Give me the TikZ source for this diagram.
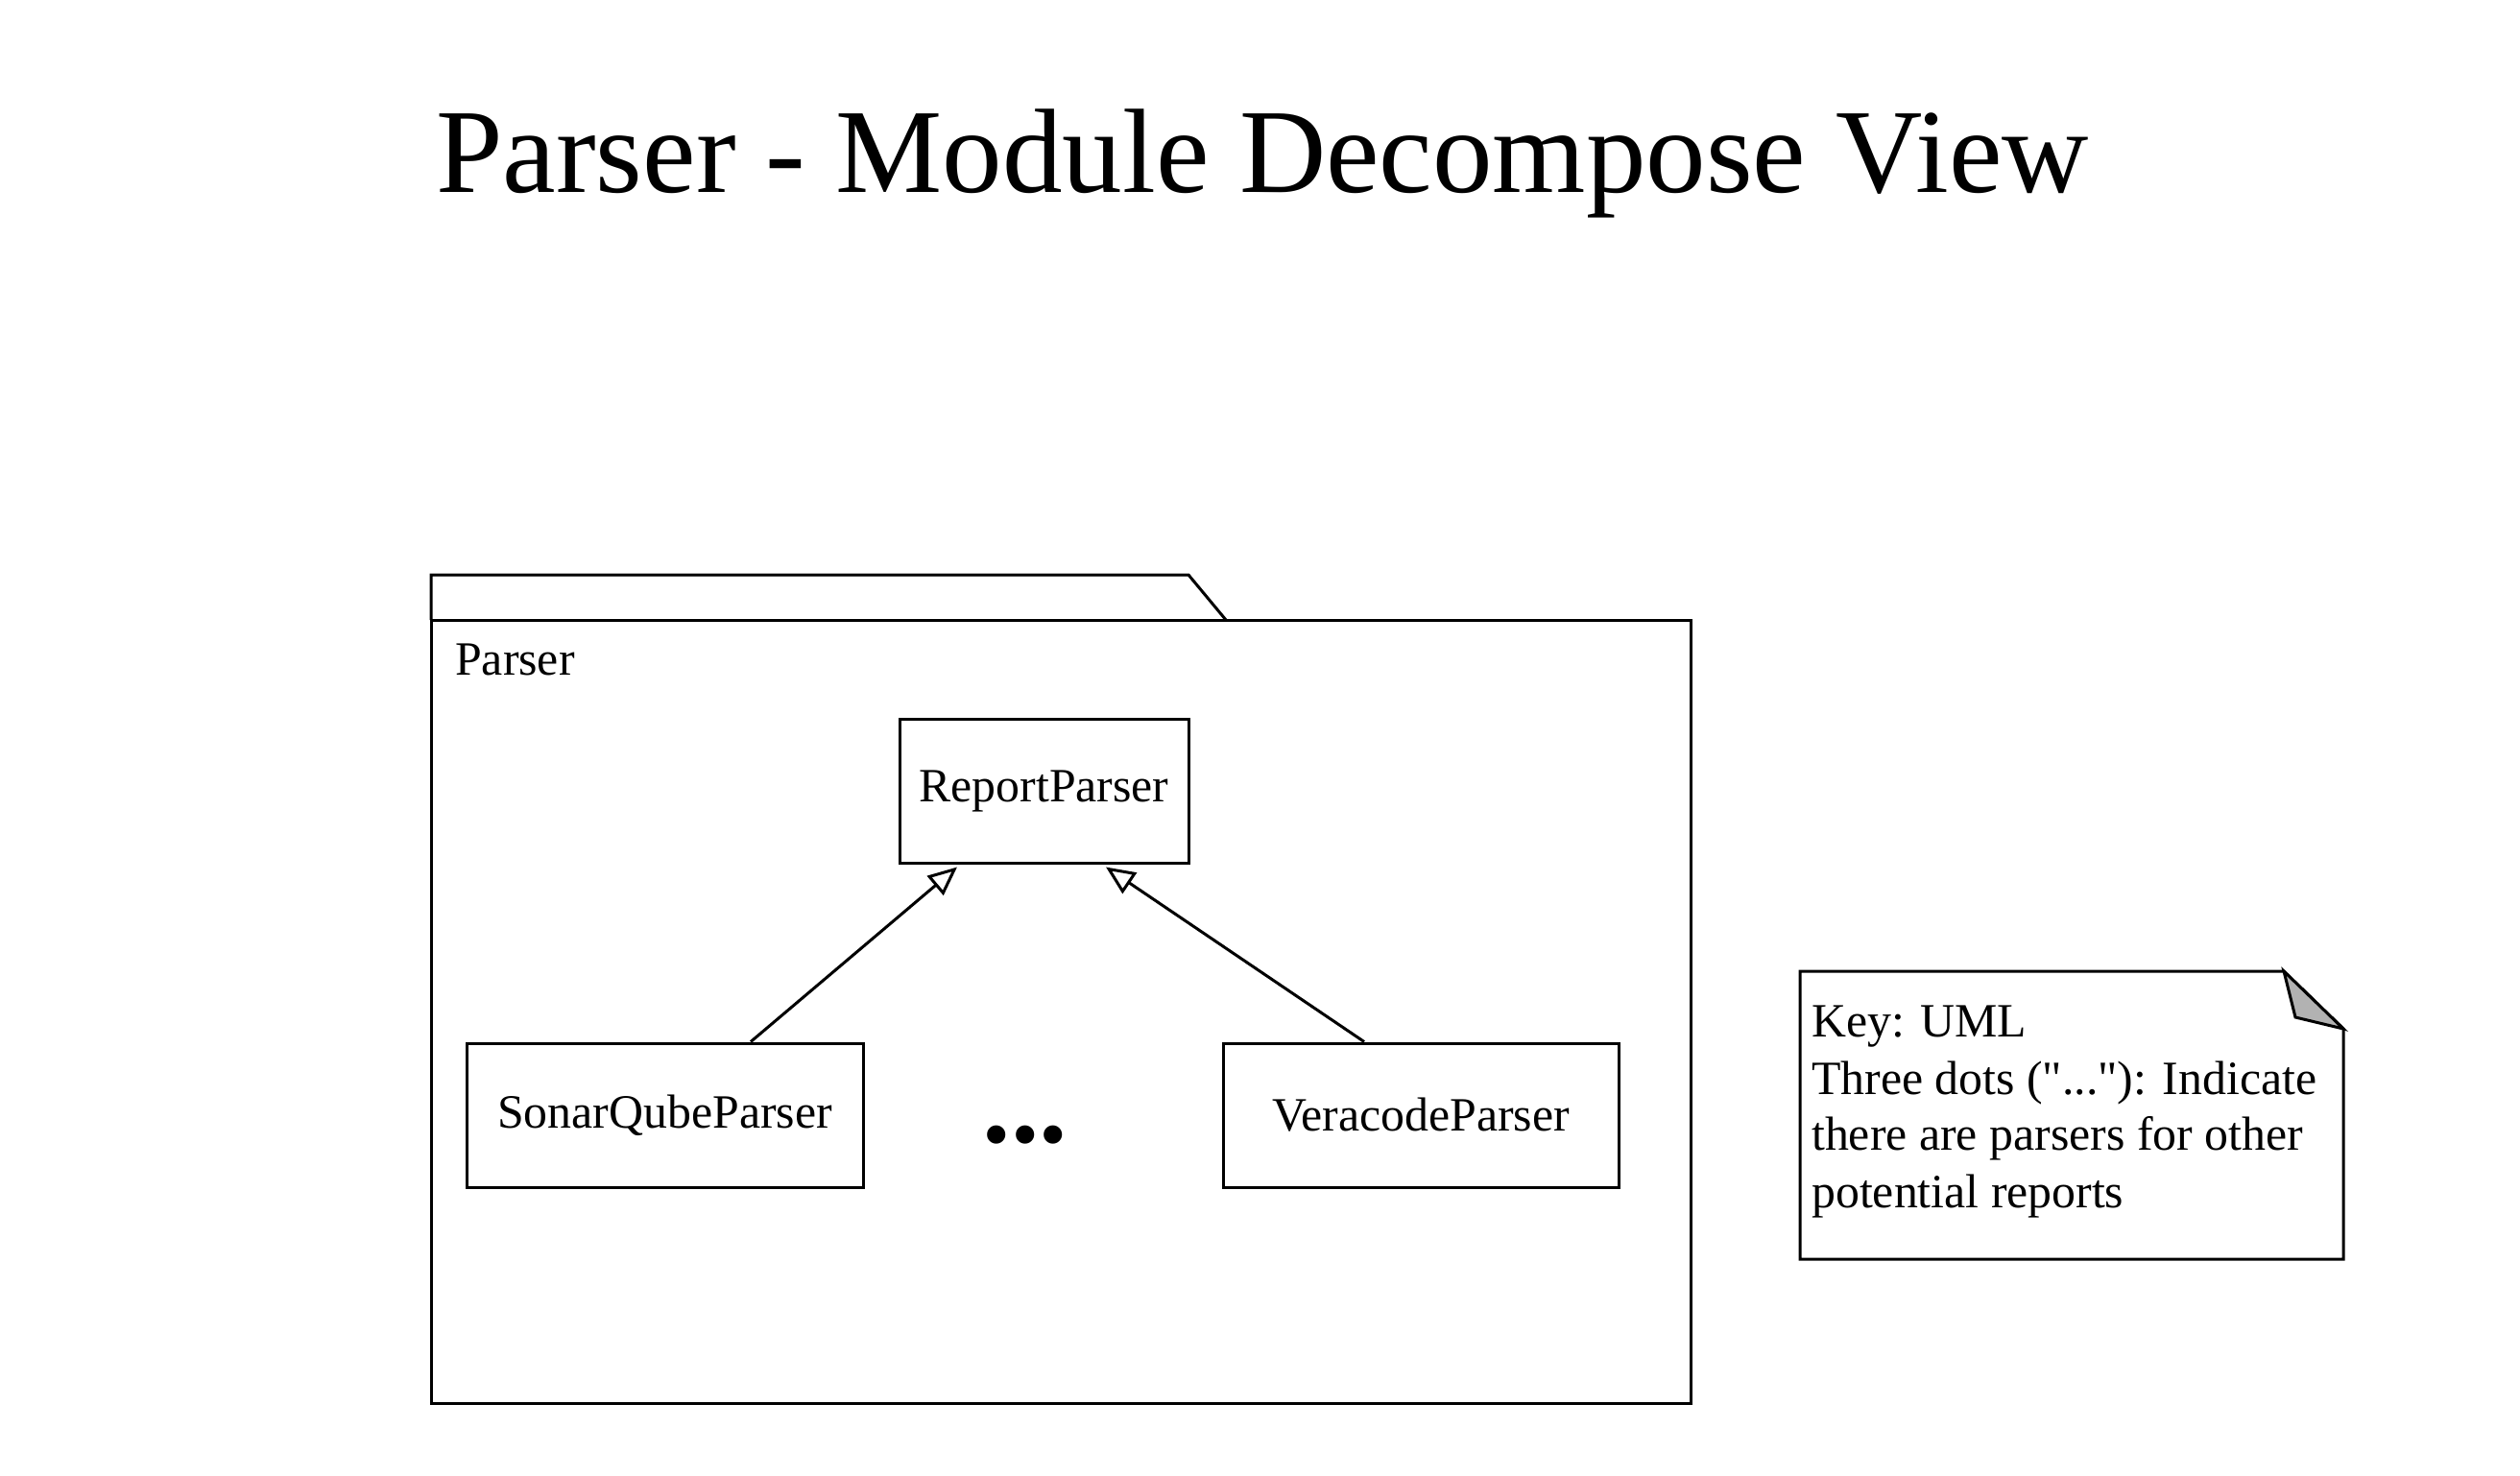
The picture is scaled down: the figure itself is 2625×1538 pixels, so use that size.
\documentclass[tikz,border=0pt]{standalone}
\usepackage{fontspec}
\setmainfont{Liberation Serif}
\newfontfamily\plainserif{Liberation Serif}
\usetikzlibrary{arrows.meta}
\tikzset{
  lw/.style={line width=3bp},
  classbox/.style={draw, lw, minimum height=150bp, inner sep=0pt, font=\fontsize{50}{59}\selectfont},
  notetext/.style={anchor=base west, inner sep=0pt, font=\plainserif\fontsize{50}{59}\selectfont},
  genarrow/.style={lw, -{Triangle[open, length=30bp, width=26bp, line width=3bp]}},
}
\begin{document}
\begin{tikzpicture}[x=1bp, y=-1bp]
\useasboundingbox (0,0) rectangle (2625,1538);
% title
\node[anchor=base, inner sep=0pt, font=\fontsize{125.5}{140}\selectfont] (title) at (1315,200) {Parser - Module Decompose View};
% package
\draw[lw, line join=miter] (449,646) -- (449,599) -- (1238,599) -- (1277,646);
\draw[lw] (449,646) rectangle (1761,1462);
\node[anchor=base west, inner sep=0pt, font=\fontsize{50}{59}\selectfont] (pkglabel) at (474,703) {Parser};
% classes
\node[classbox, minimum width=301bp] (report) at (1087.5,824) {ReportParser};
\node[classbox, minimum width=413bp] (sonar) at (692.5,1162) {SonarQubeParser};
\node[classbox, minimum width=412bp] (vera) at (1480,1162) {VeracodeParser};
\node[anchor=base, inner sep=0pt, font=\fontsize{118}{140}\selectfont\bfseries] (dots) at (1068,1190) {...};
% generalizations
\draw[genarrow] ([xshift=89.5bp]sonar.north) -- ([xshift=-90.5bp,yshift=-3bp]report.south);
\draw[genarrow] ([xshift=-59bp]vera.north) -- ([xshift=64.5bp,yshift=-3bp]report.south);
% note
\draw[lw, line join=miter] (1875,1012) -- (2379,1012) -- (2441,1072) -- (2441,1312) -- (1875,1312) -- cycle;
\filldraw[lw, fill=black!30, line join=miter] (2379,1012) -- (2391,1060) -- (2441,1072) -- cycle;
\node[notetext] (n1) at (1887,1080) {Key: UML};
\node[notetext] (n2) at (1887,1140) {Three dots ("..."): Indicate};
\node[notetext] (n3) at (1887,1198) {there are parsers for other};
\node[notetext] (n4) at (1887,1258) {potential reports};
\end{tikzpicture}
\end{document}
